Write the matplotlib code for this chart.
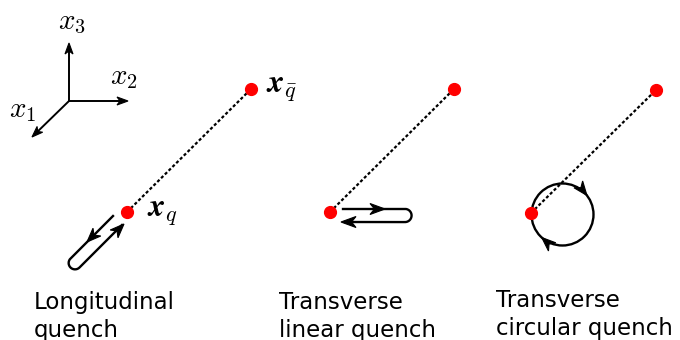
import numpy as np
import matplotlib.pyplot as plt
from matplotlib.patches import Polygon, Circle

plt.rcParams['mathtext.fontset'] = 'cm'

# Layout in pixel units (origin top-left)
W, H = 680, 340

# coordinate frame
frame_origin = (69, 101)
frame_tips = [(32, 137), (128, 101), (69, 43)]
frame_labels = [r'$x_1$', r'$x_2$', r'$x_3$']
frame_label_pos = [(23, 110), (124, 77), (72, 22)]

# quark / antiquark positions for the three panels
quark = [(127, 212), (330, 212), (531, 213)]
antiquark = [(251, 89), (454, 89), (656, 90)]

captions = [('Longitudinal', 'quench'),
            ('Transverse', 'linear quench'),
            ('Transverse', 'circular quench')]
caption_x = [34, 279, 496]
caption_baselines = [[309, 337], [309, 337], [307, 335]]

fig = plt.figure(figsize=(W / 100, H / 100), dpi=100)
ax = fig.add_axes([0, 0, 1, 1])
ax.set_xlim(0, W)
ax.set_ylim(H, 0)
ax.axis('off')

LW = 1.7


def head(tip, direction, length=12, half_w=4.5, notch=0.7, z=5):
    """Stealth-style arrowhead with its point at `tip`."""
    u = np.asarray(direction, float)
    u /= np.linalg.norm(u)
    n = np.array([-u[1], u[0]])
    t = np.asarray(tip, float)
    pts = [t, t - length * u + half_w * n, t - notch * length * u, t - length * u - half_w * n]
    ax.add_patch(Polygon(pts, closed=True, facecolor='black', edgecolor='black',
                         lw=0.8, joinstyle='miter', zorder=z))


# axes frame
for tip, lab, lp in zip(frame_tips, frame_labels, frame_label_pos):
    o = np.array(frame_origin, float)
    tp = np.array(tip, float)
    u = (tp - o) / np.linalg.norm(tp - o)
    end = tp - 6 * u
    ax.plot([o[0], end[0]], [o[1], end[1]], color='black', lw=1.4)
    head(tp, u, length=11, half_w=4.0, notch=0.72)
    ax.text(lp[0], lp[1], lab, fontsize=21, ha='center', va='center')

# dotted strings between quark and antiquark
for q, qb in zip(quark, antiquark):
    ax.plot([q[0], qb[0]], [q[1], qb[1]], color='black', lw=1.6, ls=(0, (1.4, 1.0)), zorder=2)
    ax.plot(*q, 'o', color='red', ms=8.5, zorder=6)
    ax.plot(*qb, 'o', color='red', ms=8.5, zorder=6)

ax.text(147, 212, r'$\boldsymbol{x}_{q}$', fontsize=23, ha='left', va='center')
ax.text(266, 89, r'$\boldsymbol{x}_{\bar{q}}$', fontsize=23, ha='left', va='center')


def hairpin(out_start, back_end, tip_center, n=60):
    """Path out from `out_start` to a rounded turn at `tip_center`, then back to `back_end`."""
    a = np.asarray(out_start, float)
    b = np.asarray(back_end, float)
    c = np.asarray(tip_center, float)
    mid = (a + b) / 2
    d = (c - mid) / np.linalg.norm(c - mid)
    hw = np.linalg.norm(b - a) / 2
    side_a = (a - mid) / np.linalg.norm(a - mid)
    side_a = side_a - np.dot(side_a, d) * d
    side_a /= np.linalg.norm(side_a)
    a_end = c + hw * side_a
    b_end = c - hw * side_a
    ang = np.linspace(0, np.pi, n)
    arc = np.array([c + hw * (np.cos(t) * side_a + np.sin(t) * d) for t in ang])
    out = np.linspace(a, a_end, n)
    back = np.linspace(b_end, b, n)
    return np.vstack([out, arc, back]), d


# longitudinal loop
path, d = hairpin((113, 216), (122, 225), (75, 263))
ax.plot(path[:, 0], path[:, 1], color='black', lw=LW, solid_joinstyle='round')
head((87, 242), d, length=14, half_w=5.5)
head((124, 224), -d, length=14, half_w=5.5)

# transverse linear loop
path, d = hairpin((343, 209), (345, 222), (405, 215.5))
ax.plot(path[:, 0], path[:, 1], color='black', lw=LW)
head((385, 209), (1, 0), length=15, half_w=5.5)
head((341, 222), (-1, 0), length=15, half_w=5.5)

# transverse circular loop
cx, cy, r = 562.5, 214.5, 31
ax.add_patch(Circle((cx, cy), r, fill=False, edgecolor='black', lw=LW, zorder=3))
for th in np.radians([-38, 132]):
    pt = np.array([cx + r * np.cos(th), cy + r * np.sin(th)])
    tang = np.array([-np.sin(th), np.cos(th)])
    head(pt, tang, length=14, half_w=5.5)

for x, lines, bl in zip(caption_x, captions, caption_baselines):
    for txt, y in zip(lines, bl):
        ax.text(x, y, txt, fontsize=16.5, ha='left', va='baseline', family='DejaVu Sans')

fig.savefig('out.png', dpi=100)
